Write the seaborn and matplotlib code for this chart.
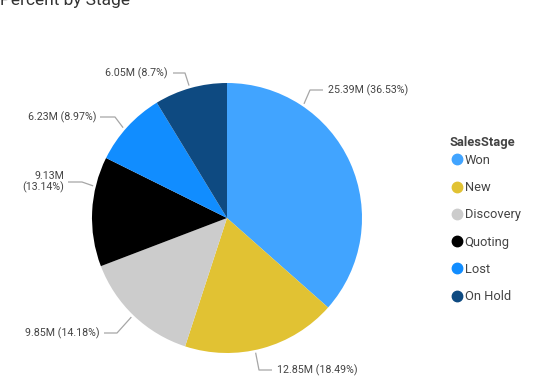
import matplotlib
matplotlib.use("Agg")
import numpy as np
import matplotlib.pyplot as plt
import seaborn as sns
from matplotlib.lines import Line2D

# Sales amount by stage (millions)
stages = ["Won", "New", "Discovery", "Quoting", "Lost", "On Hold"]
amounts = [25.39, 12.85, 9.85, 9.13, 6.23, 6.05]
percents = ["36.53%", "18.49%", "14.18%", "13.14%", "8.97%", "8.7%"]
colors = ["#41A4FF", "#E1C233", "#CCCCCC", "#000000", "#118DFF", "#0E4A81"]

sns.set_theme(style="white")
plt.rcParams["font.family"] = ["Roboto", "DejaVu Sans"]

fig = plt.figure(figsize=(5.4, 3.9), dpi=100)
ax = fig.add_axes([0, 0, 1, 1])

# pie in pixel-like coordinates (y up)
cx, cy, r = 227, 172, 135
wedges, _ = ax.pie(amounts, colors=colors, startangle=90, counterclock=False,
                   center=(cx, cy), radius=r, wedgeprops=dict(linewidth=0))
ax.set_xlim(0, 540)
ax.set_ylim(0, 390)
ax.set_aspect("equal")
ax.axis("off")

# label layout: anchor angle (deg clockwise from top), elbow, line end, text x, side
layout = [
    (34, (310, 300), (323, 300), 328, "left"),
    (168, (259, 20), (272, 20), 277, "left"),
    (224, (117, 57), (104, 57), 100, "right"),
    (283.5, (82, 208), (68, 208), 64, "right"),
    (311, (115, 273), (100, 273), 97, "right"),
    (344, (185, 317), (173, 317), 168, "right"),
]

for stage, amt, pct, (ang, elbow, end, tx, ha) in zip(stages, amounts, percents, layout):
    t = np.deg2rad(ang)
    sx = cx + r * 1.02 * np.sin(t)
    sy = cy + r * 1.02 * np.cos(t)
    ax.plot([sx, elbow[0], end[0]], [sy, elbow[1], end[1]], color="#A6A6A6", lw=0.9,
            solid_capstyle="butt")
    txt = f"{amt:.2f}M ({pct})"
    if stage == "Quoting":
        txt = f"{amt:.2f}M\n({pct})"
    ax.text(tx, end[1], txt, ha=ha, va="center", fontsize=7.7, color="#444444",
            multialignment="right", linespacing=1.15)

fig.text(0, (390 - 5) / 390, "Percent by Stage", fontsize=12.5, color="#333333",
         ha="left", va="baseline")

# legend
fig.text(449 / 540, 1 - 142 / 390, "SalesStage", fontsize=9.3, fontweight="bold",
         color="#444444", ha="left", va="center")
handles = [Line2D([], [], marker="o", linestyle="", markersize=7.5,
                  markerfacecolor=c, markeredgecolor=c) for c in colors]
leg = ax.legend(handles, stages, loc="upper left",
                bbox_to_anchor=(450.5 / 540, 1 - 154 / 390), bbox_transform=fig.transFigure,
                frameon=False, fontsize=9.3, handlelength=1.0,
                handletextpad=0.1, labelspacing=1.1, borderpad=0, borderaxespad=0)
for t in leg.get_texts():
    t.set_color("#444444")

fig.savefig("out.png", dpi=100)
